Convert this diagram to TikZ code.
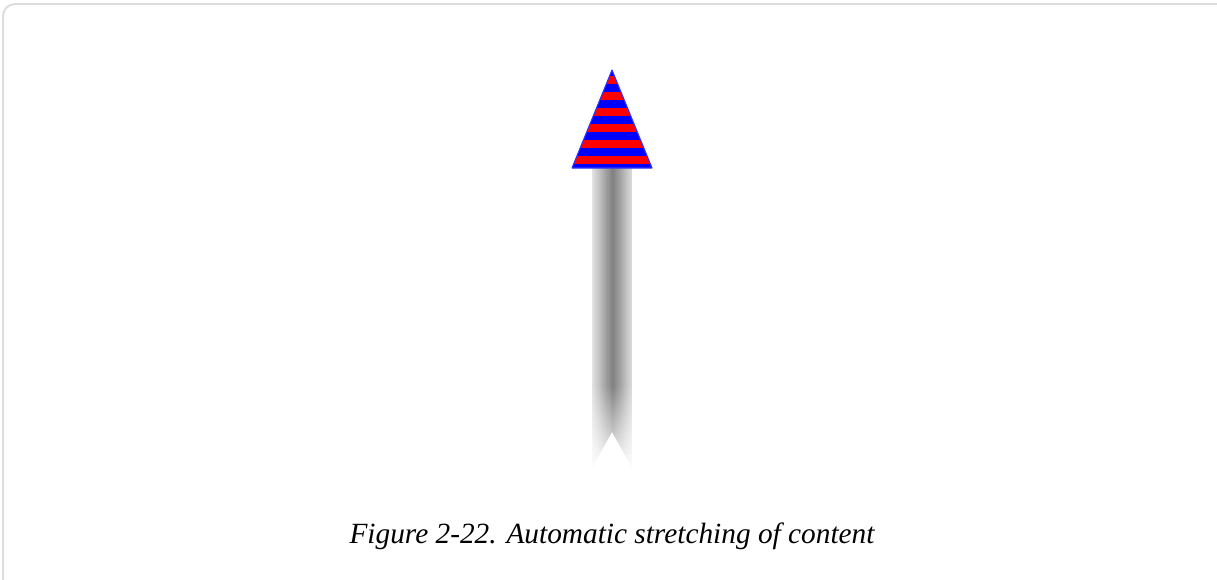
\documentclass[tikz,border=0pt]{standalone}
\usepackage{fontspec}
\setmainfont{Liberation Serif}
\usetikzlibrary{fadings}
\definecolor{framegray}{HTML}{DDDDDD}
\begin{document}
\begin{tikzpicture}[x=0.75pt,y=-0.75pt,
  frame/.style={draw=framegray,line width=1.5pt,rounded corners=9pt},
  caption/.style={font=\itshape\fontsize{22}{26}\selectfont,text=black,anchor=base}]
\useasboundingbox (0,0) rectangle (1217,579);
\begin{scope}
\clip (0,0) rectangle (1217,579);
\draw[frame] (3,4) rectangle (1240,600);
\end{scope}
% shaft
\coordinate (s1) at (592,168);
\coordinate (s2) at (632,168);
\coordinate (s3) at (632,468);
\coordinate (s4) at (612,432);
\coordinate (s5) at (592,468);
\begin{scope}
\clip (s1) -- (s2) -- (s3) -- (s4) -- (s5) -- cycle;
\foreach \i in {0,...,39}{
  \pgfmathsetmacro{\g}{int(round(10+40*(1-abs(\i+0.5-21)/21)))}
  \fill[black!\g] ({592+\i},166) rectangle ({593.2+\i},470);
}
\end{scope}
\fill[white,path fading=north] (588,385) rectangle (636,472);
% arrow head
\coordinate (apex) at (612,70);
\coordinate (bl) at (572,168);
\coordinate (br) at (652,168);
\begin{scope}
\clip (apex) -- (br) -- (bl) -- cycle;
\fill[blue] (560,60) rectangle (665,170);
\foreach \k in {0,...,5}{
  \fill[red] (560,{76+16*\k}) rectangle (665,{84+16*\k});
}
\end{scope}
\draw[blue!80,line width=0.8pt,line join=round] (apex) -- (br) -- (bl) -- cycle;
\node[caption] (cap) at (612,543) {Figure 2-22. Automatic stretching of content};
\end{tikzpicture}
\end{document}
